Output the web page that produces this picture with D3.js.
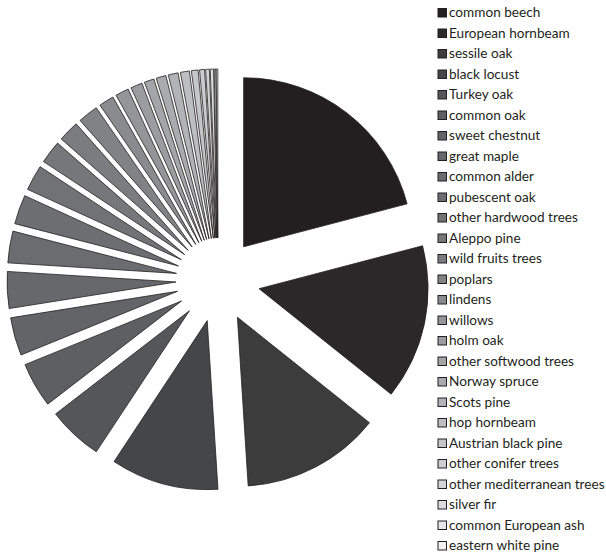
<!DOCTYPE html>
<html>
<head>
<meta charset="utf-8">
<script src="https://cdn.jsdelivr.net/npm/d3@7"></script>
<style>
  html, body { margin: 0; padding: 0; background: #ffffff; }
  svg { display: block; }
  .legend text { font-family: Lato, "Open Sans", sans-serif; font-size: 13.6px; fill: #231f20; }
</style>
</head>
<body>
<svg id="chart" width="606" height="555"></svg>
<script>
// Tree species, share of the total (%)
const species = [
  "common beech", "European hornbeam", "sessile oak", "black locust", "Turkey oak",
  "common oak", "sweet chestnut", "great maple", "common alder", "pubescent oak",
  "other hardwood trees", "Aleppo pine", "wild fruits trees", "poplars", "lindens",
  "willows", "holm oak", "other softwood trees", "Norway spruce", "Scots pine",
  "hop hornbeam", "Austrian black pine", "other conifer trees",
  "other mediterranean trees", "silver fir", "common European ash", "eastern white pine"
];
const shares = [
  20.9, 14.8, 13.25, 10.3, 5.25,
  4.3, 3.64, 3.5, 3.03, 2.8,
  2.44, 2.19, 2.0, 1.94, 1.44,
  1.28, 1.11, 0.94, 0.94, 0.94,
  0.86, 0.64, 0.47,
  0.35, 0.32, 0.15, 0.15
];

// Grey ramp, dark to light, one shade per species
const greys = [
  "#231f20", "#2b2829", "#3c3c3d", "#454648", "#555658",
  "#5e5f61", "#636467", "#67686b", "#6b6c6f", "#6d6e71",
  "#717275", "#76777a", "#7b7c7f", "#818285", "#8a8b8e",
  "#939598", "#9a9c9f", "#a3a5a8", "#a9abae", "#b1b3b6",
  "#bcbec0", "#c4c6c8", "#cccdd0", "#d3d4d6", "#dcdddf",
  "#e6e7e8", "#f1f1f2"
];

const svg = d3.select("#chart");
const cx = 218, cy = 280, radius = 169, explode = 42;

const colour = d3.scaleOrdinal().domain(species).range(greys);

const pie = d3.pie().sort(null).value(d => d.value);
const arc = d3.arc().innerRadius(0).outerRadius(radius);

const rows = species.map((name, i) => ({ name, value: shares[i] }));

// Every slice is pushed out along its bisector
const pieG = svg.append("g").attr("transform", `translate(${cx},${cy})`);
pieG.selectAll("path")
  .data(pie(rows))
  .join("path")
  .attr("d", arc)
  .attr("transform", d => {
    const mid = (d.startAngle + d.endAngle) / 2;
    return `translate(${Math.sin(mid) * explode},${-Math.cos(mid) * explode})`;
  })
  .attr("fill", d => colour(d.data.name))
  .attr("stroke", "#231f20")
  .attr("stroke-width", 0.8)
  .attr("stroke-linejoin", "miter");

// Legend
const legend = svg.append("g").attr("class", "legend");
const lx = 437.5, ly = 8, step = 20.5, box = 8.5;
const item = legend.selectAll("g")
  .data(species)
  .join("g")
  .attr("transform", (d, i) => `translate(${lx},${ly + i * step})`);
item.append("rect")
  .attr("x", 0.5).attr("y", 0.5)
  .attr("width", box).attr("height", box)
  .attr("fill", d => colour(d))
  .attr("stroke", "#231f20")
  .attr("stroke-width", 1);
item.append("text")
  .attr("x", 11.5)
  .attr("y", 9)
  .text(d => d);
</script>
</body>
</html>
